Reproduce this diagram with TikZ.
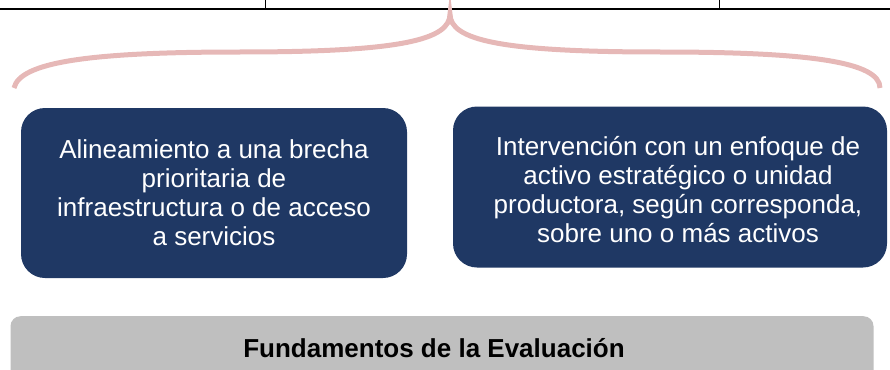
\documentclass[tikz,border=0pt]{standalone}
\usepackage{fontspec}
\setmainfont{Liberation Sans}
\usepackage{tikz}
\usetikzlibrary{positioning}
\definecolor{navy}{RGB}{31,56,100}
\definecolor{bracepink}{RGB}{230,184,183}
\definecolor{fundgray}{RGB}{191,191,191}

\begin{document}
\begin{tikzpicture}[x=1pt, y=-1pt]
			\tikzstyle{idea} = [fill=navy, rounded corners=24pt, inner sep=0pt]
			\tikzstyle{ideatext} = [text=white, align=center, inner sep=0pt, font=\fontsize{26}{29}\selectfont]
			\tikzstyle{base} = [fill=fundgray, rounded corners=10pt, inner sep=0pt]

			\clip (0,0) rectangle (890,369);

			% table rule on top
			\draw[line width=2pt] (0,9) -- (890,9);
			\draw[line width=1pt] (265,0) -- (265,9);
			\draw[line width=1pt] (719,0) -- (719,9);

			% brace
			\draw[bracepink, line width=5pt]
			(14,88) .. controls (20,62) and (90,52) .. (240,52)
			.. controls (400,52) and (450,40) .. (450,14)
			.. controls (450,40) and (500,52) .. (660,52)
			.. controls (810,52) and (880,62) .. (880,88);

			% the two boxes
			\node[idea, minimum width=386pt, minimum height=170pt] (brecha) at (214,193) {};
			\node[ideatext, anchor=base] (brechatext) at (214,245)
			{Alineamiento a una brecha\\ prioritaria de\\ infraestructura o de acceso\\ a servicios};
			\node[idea, minimum width=434pt, minimum height=161pt] (activo) at (670,187) {};
			\node[ideatext, anchor=base] (activotext) at (678,242)
			{Intervención con un enfoque de\\ activo estratégico o unidad\\ productora, según corresponda,\\ sobre uno o más activos};

			% base bar
			\node[base, minimum width=863pt, minimum height=70pt, anchor=north] (fund) at (442,316) {};
			\node[font=\bfseries\fontsize{26}{30}\selectfont, anchor=base] (fundtext) at (434,357) {Fundamentos de la Evaluación};
\end{tikzpicture}
\end{document}
